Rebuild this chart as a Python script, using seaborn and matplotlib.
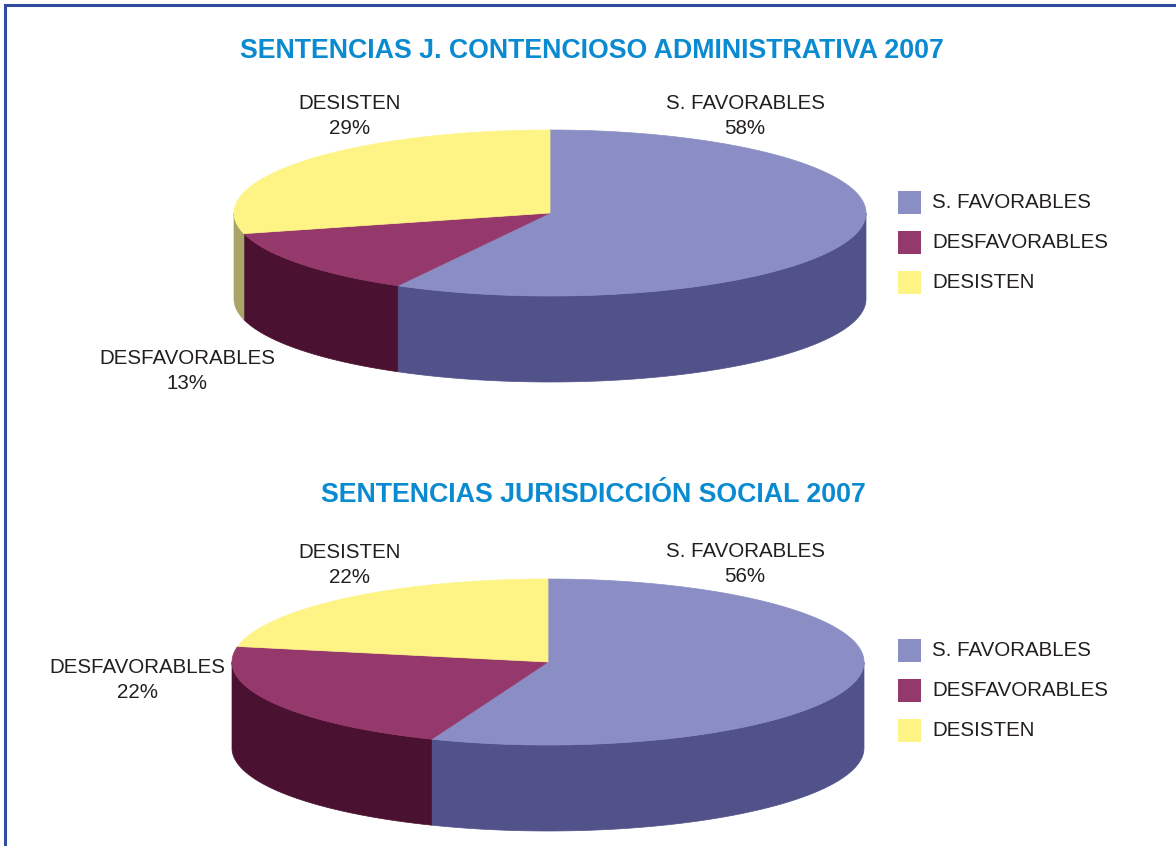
import numpy as np
import matplotlib.pyplot as plt
import seaborn as sns
from matplotlib.patches import Polygon, Rectangle

# --- dados ---
categorias = ['S. FAVORABLES', 'DESFAVORABLES', 'DESISTEN']
titulos = ['SENTENCIAS J. CONTENCIOSO ADMINISTRATIVA 2007',
           'SENTENCIAS JURISDICCIÓN SOCIAL 2007']
contencioso = [58, 13, 29]
social = [56, 22, 22]

# cores (topo e lateral)
cores_topo = ['#8b8ec4', '#95386b', '#fef486']
cores_lado = ['#52528a', '#4a1131', '#aba46a']
azul_titulo = '#0a8ad0'
cor_texto = '#231f20'

sns.set_theme(style='white')
plt.rcParams['font.family'] = ['Liberation Sans', 'DejaVu Sans']

fig = plt.figure(figsize=(11.76, 8.46), dpi=100)
ax = fig.add_axes([0, 0, 1, 1])
ax.set_xlim(0, 1176)
ax.set_ylim(846, 0)
ax.axis('off')


def pizza_3d(ax, valores, cx, cy, rx, ry, prof):
    total = sum(valores)
    inicio = 90.0
    faixas = []
    for v in valores:
        fim = inicio - 360.0 * v / total
        faixas.append((fim, inicio))
        inicio = fim

    # laterais (apenas metade da frente)
    for (a, b), cor in zip(faixas, cores_lado):
        for k in (-1, 0, 1):
            lo = max(a, -180 + 360 * k)
            hi = min(b, 0 + 360 * k)
            if hi <= lo:
                continue
            t = np.radians(np.linspace(lo, hi, 150))
            xs = cx + rx * np.cos(t)
            ys = cy - ry * np.sin(t)
            pts = np.column_stack([np.r_[xs, xs[::-1]],
                                   np.r_[ys, ys[::-1] + prof]])
            ax.add_patch(Polygon(pts, closed=True, facecolor=cor,
                                 edgecolor=cor, linewidth=0.5))

    # topo
    for (a, b), cor in zip(faixas, cores_topo):
        t = np.radians(np.linspace(a, b, 300))
        xs = np.r_[cx, cx + rx * np.cos(t)]
        ys = np.r_[cy, cy - ry * np.sin(t)]
        ax.add_patch(Polygon(np.column_stack([xs, ys]), closed=True,
                             facecolor=cor, edgecolor=cor, linewidth=0.5))


def legenda(ax, y0):
    for i, (nome, cor) in enumerate(zip(categorias, cores_topo)):
        y = y0 + 40 * i
        ax.add_patch(Rectangle((898, y - 11.5), 23, 23, facecolor=cor,
                               edgecolor='none'))
        ax.text(932, y, nome, fontsize=14.8, color=cor_texto,
                ha='left', va='center')


def rotulos(ax, valores, posicoes):
    for nome, v, (x, y) in zip(categorias, valores, posicoes):
        ax.text(x, y, f'{nome}\n{v}%', fontsize=14.8, color=cor_texto,
                ha='center', va='center', linespacing=1.4)


# gráfico 1
ax.text(592, 51, titulos[0], fontsize=19.3, fontweight='bold',
        color=azul_titulo, ha='center', va='center')
pizza_3d(ax, contencioso, cx=550, cy=213, rx=316, ry=83, prof=86)
rotulos(ax, contencioso, [(745, 116), (187, 371), (350, 116)])
legenda(ax, 203)

# gráfico 2
ax.text(593, 495, titulos[1], fontsize=19.3, fontweight='bold',
        color=azul_titulo, ha='center', va='center')
pizza_3d(ax, social, cx=548, cy=662, rx=316, ry=83, prof=86)
rotulos(ax, social, [(745, 564), (137, 680), (350, 565)])
legenda(ax, 651)

# moldura azul
ax.plot([5, 5], [846, 5], color='#2f4c9e', linewidth=2.2,
        solid_capstyle='projecting')
ax.plot([5, 1176], [5, 5], color='#2f4c9e', linewidth=2.2,
        solid_capstyle='projecting')

plt.savefig('out.png', dpi=100)
